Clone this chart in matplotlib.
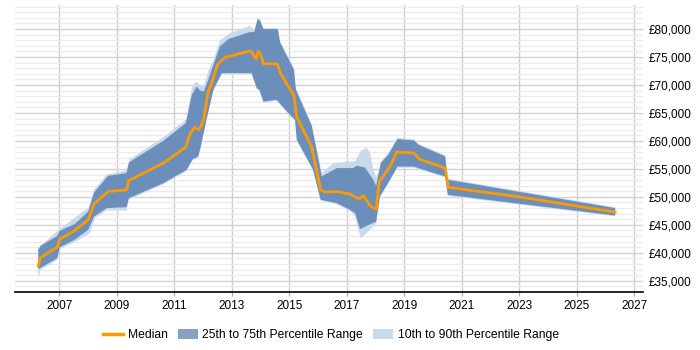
import matplotlib.pyplot as plt
from matplotlib.lines import Line2D
from matplotlib.patches import Patch
from matplotlib.ticker import FuncFormatter, MultipleLocator

plt.rcParams['font.family'] = ['Liberation Sans', 'DejaVu Sans']

# median salary
med_t = [2006.27, 2006.35, 2006.93, 2007.02, 2007.49, 2008.01, 2008.21, 2008.70,
         2009.34, 2009.42, 2010.04, 2010.62, 2011.40, 2011.57, 2011.72, 2011.83,
         2011.93, 2012.03, 2012.18, 2012.30, 2012.50, 2012.76, 2013.66, 2013.84,
         2013.92, 2014.01, 2014.10, 2014.58, 2014.70, 2015.16, 2015.26, 2015.78,
         2016.09, 2016.24, 2016.65, 2017.11, 2017.29, 2017.46, 2017.57, 2017.75,
         2017.87, 2018.02, 2018.13, 2018.50, 2018.74, 2019.34, 2019.52, 2020.42,
         2020.53, 2023.05, 2026.33]
med_v = [37700, 39160, 41020, 42450, 43810, 45900, 48760, 50960,
         51270, 52930, 54540, 56040, 58900, 61510, 62480, 62000,
         62590, 64090, 68840, 70340, 73620, 74920, 76120, 74640,
         76000, 75400, 73800, 73800, 72010, 68130, 64270, 58900,
         51270, 50860, 50960, 50500, 49960, 49660, 50250, 48890,
         48170, 47820, 52750, 55430, 58010, 57830, 56760, 55150,
         51710, 49960, 47280]

# 75th percentile
p75_t = [2006.27, 2006.35, 2006.93, 2007.02, 2007.55, 2008.01, 2008.21, 2008.70,
         2009.34, 2009.42, 2010.62, 2011.40, 2011.61, 2011.78, 2011.89, 2012.03,
         2012.18, 2012.36, 2012.59, 2012.88, 2013.63, 2013.78, 2013.90, 2013.98,
         2014.10, 2014.60, 2014.68, 2015.16, 2015.23, 2015.78, 2016.13, 2016.65,
         2017.23, 2017.34, 2017.63, 2017.92, 2018.02, 2018.18, 2018.44, 2018.76,
         2019.34, 2019.49, 2020.42, 2020.51, 2026.33]
p75_v = [40540, 41250, 43040, 43940, 45190, 47390, 50780, 53770,
         54250, 56150, 60030, 63190, 68250, 69740, 69020, 68840,
         70940, 73620, 76890, 78210, 79460, 79460, 81790, 81540,
         80000, 80000, 77600, 72720, 69150, 62710, 53650, 55150,
         55150, 55560, 55250, 53060, 51980, 56040, 57530, 60330,
         60080, 59310, 57220, 53060, 48000]

# 25th percentile
p25_t = [2006.27, 2006.93, 2007.02, 2007.49, 2008.01, 2008.21, 2008.65, 2009.34,
         2009.42, 2010.62, 2011.43, 2011.64, 2011.83, 2011.92, 2012.13, 2012.36,
         2012.65, 2013.69, 2013.87, 2013.96, 2014.10, 2014.56, 2014.97, 2015.20,
         2015.26, 2015.83, 2016.09, 2016.65, 2017.11, 2017.29, 2017.46, 2017.69,
         2018.02, 2018.15, 2018.50, 2018.76, 2019.34, 2019.49, 2020.42, 2020.51,
         2026.33]
p25_v = [37090, 39050, 41020, 42200, 44120, 46490, 48000, 48170,
         49780, 52460, 54840, 56760, 57220, 59010, 64090, 69150,
         72130, 72130, 69450, 69150, 67050, 67360, 64980, 63780,
         60210, 54840, 49480, 48890, 47690, 47100, 44240, 44830,
         45600, 50070, 53060, 55430, 55430, 55150, 53650, 50370,
         46670]

# 90th percentile
p90_t = [2006.27, 2007.02, 2008.01, 2008.21, 2008.65, 2009.34, 2009.46, 2010.62,
         2011.43, 2011.61, 2011.75, 2011.89, 2012.03, 2012.18, 2012.36, 2012.59,
         2012.94, 2013.63, 2013.78, 2013.90, 2013.98, 2014.10, 2014.60, 2014.68,
         2015.16, 2015.23, 2015.78, 2016.13, 2016.53, 2017.11, 2017.29, 2017.49,
         2017.69, 2017.81, 2017.92, 2018.02, 2018.13, 2018.18, 2018.44, 2018.76,
         2019.34, 2019.49, 2020.42, 2020.51, 2026.33]
p90_v = [40900, 44290, 48050, 51270, 54000, 54720, 56760, 60690,
         63910, 69450, 70630, 70040, 69860, 72420, 74510, 77960,
         79280, 80590, 79870, 81790, 81750, 80140, 80140, 77820,
         72990, 69410, 62980, 54250, 56040, 56330, 56330, 58290,
         58720, 57830, 54840, 53540, 54840, 56270, 57790, 60560,
         60300, 59490, 57440, 53230, 48140]

# 10th percentile
p10_t = [2006.27, 2006.35, 2006.93, 2007.02, 2007.49, 2008.07, 2008.24, 2008.65,
         2009.34, 2009.42, 2010.62, 2011.43, 2011.64, 2011.83, 2011.92, 2012.13,
         2012.36, 2012.65, 2013.69, 2013.87, 2013.96, 2014.10, 2014.56, 2014.97,
         2015.20, 2015.26, 2015.83, 2016.09, 2016.65, 2017.11, 2017.29, 2017.48,
         2017.69, 2018.02, 2018.15, 2018.50, 2018.76, 2019.34, 2019.49, 2020.42,
         2020.51, 2026.33]
p10_v = [35480, 36960, 38750, 40720, 41790, 43520, 46210, 47570,
         47570, 49480, 52250, 54660, 56540, 56990, 58780, 63870,
         68970, 71920, 71920, 69240, 68970, 66820, 67180, 64770,
         63600, 60030, 54660, 49300, 48670, 47510, 46490, 42630,
         43520, 45310, 49840, 52880, 55200, 55200, 54930, 53500,
         50190, 46530]

years = list(range(2007, 2028, 2))

c_med = '#ff9900'
c_iqr = '#6b8fba'
c_dec = '#c8d9ec'

fig = plt.figure(figsize=(7, 3.5), dpi=100)
ax = fig.add_axes([0.0214, 0.1657, 0.8972, 0.82])

ax.fill(p90_t + p10_t[::-1], p90_v + p10_v[::-1], color=c_dec, lw=0, zorder=2)
ax.fill(p75_t + p25_t[::-1], p75_v + p25_v[::-1], color=c_iqr, lw=0, zorder=3)
ax.plot(med_t, med_v, color=c_med, lw=2, zorder=4)

ax.set_xlim(2005.46, 2027.3)
ax.set_ylim(33000, 84300)

ax.set_xticks(years)
ax.set_xticklabels([str(y) for y in years])
ax.yaxis.set_major_locator(MultipleLocator(5000))
ax.yaxis.set_minor_locator(MultipleLocator(1000))
ax.yaxis.set_major_formatter(FuncFormatter(lambda v, p: '£{:,.0f}'.format(v)))
ax.yaxis.tick_right()

ax.grid(axis='x', color='#cccccc', lw=1, zorder=0)
ax.grid(axis='y', which='major', color='#d2d2d2', lw=1, zorder=0)
ax.grid(axis='y', which='minor', color='#ebebeb', lw=1, zorder=0)
ax.set_axisbelow(True)

for s in ['top', 'left', 'right']:
    ax.spines[s].set_visible(False)
ax.spines['bottom'].set_color('black')
ax.spines['bottom'].set_linewidth(1.2)

ax.tick_params(axis='x', length=3, color='#aaaaaa', pad=3, labelsize=8.5)
ax.tick_params(axis='y', which='both', length=0, pad=4, labelsize=8.5)

handles = [Line2D([0], [0], color=c_med, lw=2.5),
           Patch(facecolor='#86a3c5', edgecolor='none'),
           Patch(facecolor=c_dec, edgecolor='none')]
labels = ['Median', '25th to 75th Percentile Range', '10th to 90th Percentile Range']
fig.legend(handles, labels, loc='center', bbox_to_anchor=(331 / 700, 1 - 335 / 350),
           ncol=3, frameon=False, fontsize=8.7, handlelength=1.65, handleheight=0.95,
           columnspacing=0.8, handletextpad=0.4)

fig.savefig('out.png', dpi=100)
